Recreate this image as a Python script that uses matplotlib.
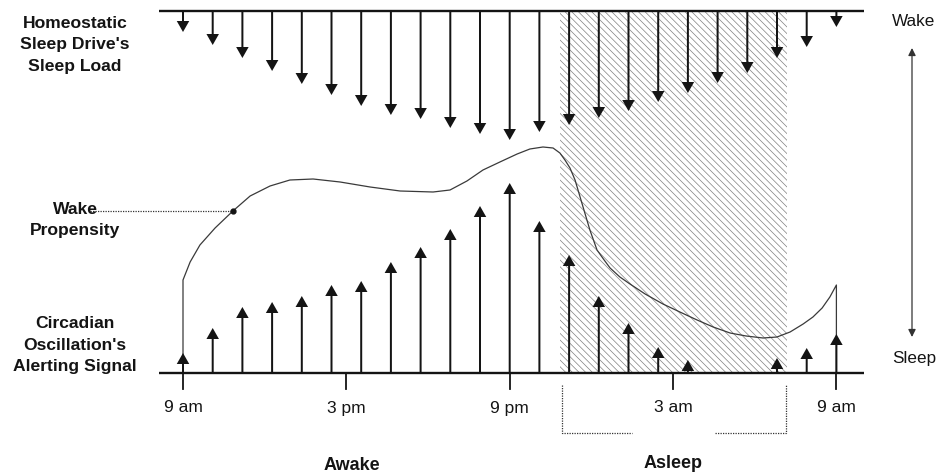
import matplotlib
matplotlib.use("Agg")
import matplotlib.pyplot as plt
from matplotlib.patches import Rectangle

plt.rcParams['font.family'] = ['Liberation Sans Narrow', 'Liberation Sans', 'DejaVu Sans']
plt.rcParams['hatch.linewidth'] = 0.5

# ---- data (x in arrow-index units: 0 = 9 am, 22 = 9 am next day) ----
arrow_pos = list(range(23))
sleep_load = [21, 34, 47, 60, 73, 84, 95, 104, 108, 117, 123, 129,
              121, 114, 107, 100, 91, 82, 72, 62, 47, 36, 16]
alerting = [20, 45, 66, 71, 77, 88, 92, 111, 126, 144, 167, 190,
            152, 118, 77, 50, 26, 13, 0, 0, 15, 25, 39]

wake_x = [0, 0, 0.24, 0.57, 1.08, 1.68, 2.26, 2.93, 3.60, 4.38, 5.29, 6.30,
          7.31, 8.42, 8.99, 9.56, 10.10, 10.67, 11.25, 11.68, 12.12, 12.46,
          12.69, 12.86, 13.03, 13.20, 13.37, 13.54, 13.70, 13.94, 14.18,
          14.38, 14.71, 15.05, 15.56, 16.16, 16.73, 17.31, 17.85, 18.42,
          18.96, 19.53, 20.00, 20.44, 20.88, 21.21, 21.52, 21.78, 22.0, 22.0]
wake_y = [0, 93, 111, 128, 145, 162, 177, 187, 193, 194, 191, 186,
          182, 181, 183, 192, 203, 211, 219, 224, 226, 225,
          220, 213, 205, 193, 176, 159, 143, 123, 113,
          105, 96, 89, 79, 69, 61, 53, 46, 40,
          37, 35, 36, 41, 49, 56, 65, 76, 88, 0]

tick_pos = [0, 5.5, 11, 16.5, 22]
tick_labels = ['9 am', '3 pm', '9 pm', '3 am', '9 am']
sleep_start, sleep_end = 12.69, 20.34
dot_x, dot_y = 1.68, 162

# ---- layout ----
PX = 29.7          # pixels per arrow step
TOP = 362          # top baseline level
fig = plt.figure(figsize=(9.41, 4.76), dpi=100)
ax = fig.add_axes([0, 0, 1, 1])
ax.set_xlim(-183 / PX, (941 - 183) / PX)
ax.set_ylim(-103, 373)
ax.axis('off')

ink = '#141414'

# hatched sleep region
ax.add_patch(Rectangle((sleep_start, 0), sleep_end - sleep_start, TOP,
                       facecolor='white', edgecolor='#808080', lw=0,
                       hatch='\\' * 5, zorder=1))

# baselines
x0, x1 = (159 - 183) / PX, (864 - 183) / PX
ax.plot([x0, x1], [0, 0], color=ink, lw=1.7, zorder=4, solid_capstyle='butt')
ax.plot([x0, x1], [TOP, TOP], color=ink, lw=1.7, zorder=4, solid_capstyle='butt')

sw, hw, hl = 2.0 / PX, 12.5 / PX, 11
for x, v in zip(arrow_pos, sleep_load):
    if v > 0:
        ax.arrow(x, TOP, 0, -v, width=sw, head_width=hw, head_length=hl,
                 length_includes_head=True, color=ink, lw=0, zorder=5)
for x, v in zip(arrow_pos, alerting):
    if v > 0:
        ax.arrow(x, 0, 0, v, width=sw, head_width=hw, head_length=min(hl, v),
                 length_includes_head=True, color=ink, lw=0, zorder=5)

# wake propensity curve
ax.plot(wake_x, wake_y, color='#3a3a3a', lw=0.9, zorder=3,
        solid_joinstyle='round')
ax.plot([dot_x], [dot_y], 'o', color=ink, ms=3.5, zorder=6)
ax.plot([(90 - 183) / PX, dot_x], [dot_y, dot_y], color='#333333', lw=0.9,
        ls=(0, (1, 1)), zorder=3)

# ticks
for t, lab in zip(tick_pos, tick_labels):
    ax.plot([t, t], [0, -16], color=ink, lw=1.3, zorder=4)
    ax.text(t, -35, lab, ha='center', va='center', fontsize=12.5, color=ink)

# sleep bracket
bl, br = 12.76, 20.30
ax.plot([bl, bl, 15.12], [-12, -60, -60], color='#333333', lw=0.9,
        ls=(0, (1, 1)))
ax.plot([17.91, br, br], [-60, -60, -12], color='#333333', lw=0.9,
        ls=(0, (1, 1)))

ax.text(5.7, -92, 'Awake', ha='center', va='center', fontsize=13,
        fontweight='bold', color=ink)
ax.text(16.5, -91, 'Asleep', ha='center', va='center', fontsize=13,
        fontweight='bold', color=ink)

# left labels
lx = (75 - 183) / PX
kw = dict(ha='center', va='center', fontsize=12.6, fontweight='bold',
          color=ink, linespacing=1.55)
ax.text(lx, 328, "Homeostatic\nSleep Drive's\nSleep Load", **kw)
ax.text(lx, 153, "Wake\nPropensity", **kw)
ax.text(lx, 28, "Circadian\nOscillation's\nAlerting Signal", **kw)

# right scale
rx = (892 - 183) / PX
ax.text(rx, 351, 'Wake', ha='left', va='center', fontsize=12.3, color=ink)
ax.text(rx, 14, 'Sleep', ha='left', va='center', fontsize=12.3, color=ink)
ax.annotate('', xy=((912 - 183) / PX, 325), xytext=((912 - 183) / PX, 36),
            arrowprops=dict(arrowstyle='<|-|>', color='#333333', lw=0.9,
                            mutation_scale=11, shrinkA=0, shrinkB=0))

fig.savefig('out.png', dpi=100)
